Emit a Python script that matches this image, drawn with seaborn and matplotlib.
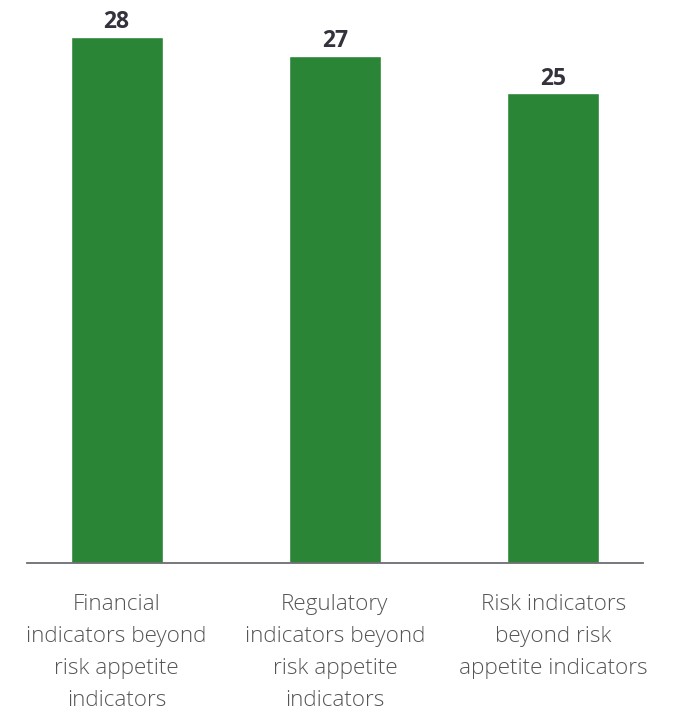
import matplotlib
matplotlib.use("Agg")
import matplotlib.pyplot as plt
import seaborn as sns
import pandas as pd

categories = [
    "Financial\nindicators beyond\nrisk appetite\nindicators",
    "Regulatory\nindicators beyond\nrisk appetite\nindicators",
    "Risk indicators\nbeyond risk\nappetite indicators",
]
values = [28, 27, 25]

BAR_GREEN = "#2a8537"
AXIS_GREY = "#6d6d72"
LABEL_GREY = "#555555"
VALUE_DARK = "#33333d"

sns.set_theme(style="white")
plt.rcParams["font.family"] = ["Open Sans", "DejaVu Sans"]

df = pd.DataFrame({"category": categories, "value": values})

fig = plt.figure(figsize=(6.84, 7.14), dpi=100)
W, H = 684, 714
ax_left, ax_right = 27, 643
ax_bottom = 562.5
ymax = 30
px_per_unit = 18.77
ax_top = ax_bottom - ymax * px_per_unit
ax = fig.add_axes([ax_left / W, (H - ax_bottom) / H,
                   (ax_right - ax_left) / W, (ax_bottom - ax_top) / H])

sns.barplot(data=df, x="category", y="value", color=BAR_GREEN,
            saturation=1, width=0.421, ax=ax)

ax.set_xlim(-0.41, 2.41)
ax.set_ylim(0, ymax)

for c in ax.containers:
    ax.bar_label(c, labels=[str(v) for v in values], padding=1.8,
                 fontsize=16.5, fontweight="bold", color=VALUE_DARK)

for s in ["top", "right", "left"]:
    ax.spines[s].set_visible(False)
ax.spines["bottom"].set_color(AXIS_GREY)
ax.spines["bottom"].set_linewidth(1.3)

ax.set_yticks([])
ax.set_xlabel("")
ax.set_ylabel("")
ax.tick_params(axis="x", length=0, pad=22.5)
for lbl in ax.get_xticklabels():
    lbl.set_fontsize(16.2)
    lbl.set_fontweight("light")
    lbl.set_color(LABEL_GREY)
    lbl.set_linespacing(1.69)
    lbl.set_verticalalignment("top")

fig.savefig("out.png", dpi=100, facecolor="white")
